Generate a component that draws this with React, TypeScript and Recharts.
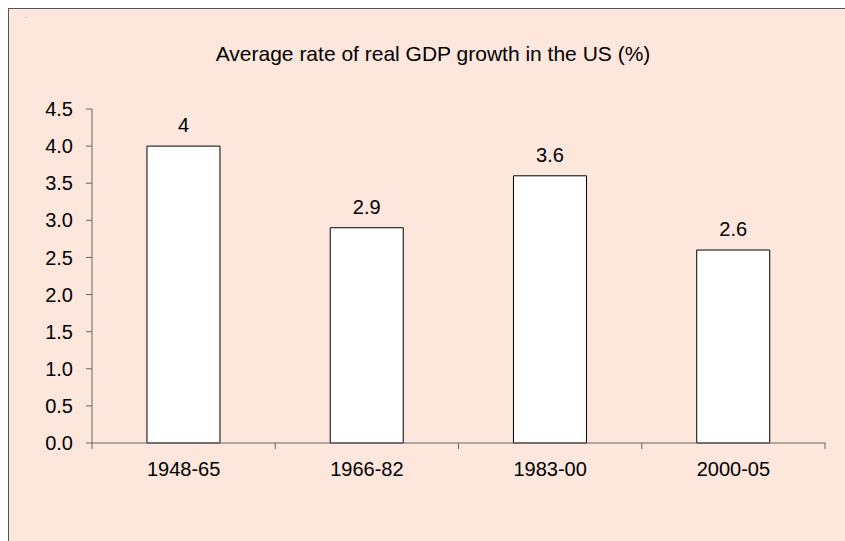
import React from 'react';
import { BarChart, Bar, XAxis, YAxis, LabelList } from 'recharts';

const PERIODS = ['1948-65', '1966-82', '1983-00', '2000-05'];
const GROWTH = [4, 2.9, 3.6, 2.6];
const Y_TICKS = [0, 0.5, 1, 1.5, 2, 2.5, 3, 3.5, 4, 4.5];

const data = PERIODS.map((period, i) => ({ period, growth: GROWTH[i] }));

const FONT = '"Liberation Sans", Arial, sans-serif';
const AXIS = '#666666';
const SIZE = 20;

// category ticks sit on the band edges, labels in the middle
const PeriodTick = (props: any) => {
  const { x, y, payload, index, visibleTicksCount } = props;
  const half = payload && payload.offset ? payload.offset : 91.6;
  const top = y - 19;
  return (
    <g>
      <line x1={x - half} y1={top} x2={x - half} y2={top + 6} stroke={AXIS} />
      {index === visibleTicksCount - 1 && (
        <line x1={x + half} y1={top} x2={x + half} y2={top + 6} stroke={AXIS} />
      )}
      <text x={x} y={y} dy="0.71em" textAnchor="middle" fontSize={SIZE} fill="#000" fontFamily={FONT}>
        {payload.value}
      </text>
    </g>
  );
};

export default function App() {
  return (
    <div
      style={{
        position: 'fixed',
        left: 8,
        top: 8,
        width: 850,
        height: 540,
        borderTop: '1px solid #555',
        borderLeft: '1px solid #555',
        background: '#FDE6DC',
        fontFamily: FONT,
        overflow: 'hidden',
      }}
    >
      <style>{'html, body { overflow: hidden; }'}</style>
      <div style={{ position: 'absolute', left: 16, top: 3, fontSize: 6, lineHeight: '8px' }}>.</div>
      <div
        style={{
          position: 'absolute',
          left: 0,
          width: 848,
          top: 34,
          textAlign: 'center',
          fontSize: 21,
          lineHeight: '21px',
          color: '#000',
        }}
      >
        Average rate of real GDP growth in the US (%)
      </div>
      <BarChart
        width={836}
        height={532}
        data={data}
        margin={{ top: 100, right: 20, bottom: 68, left: 0 }}
        barCategoryGap="30%"
      >
        <XAxis
          dataKey="period"
          height={30}
          stroke={AXIS}
          tickLine={false}
          tickSize={6}
          tickMargin={13}
          tick={<PeriodTick />}
        />
        <YAxis
          width={83}
          domain={[0, 4.5]}
          ticks={Y_TICKS}
          interval={0}
          stroke={AXIS}
          tickSize={6}
          tickMargin={13}
          tickFormatter={(v: number) => v.toFixed(1)}
          tick={{ fill: '#000', fontSize: SIZE, fontFamily: FONT }}
        />
        <Bar dataKey="growth" fill="#FFFFFF" stroke="#000000" strokeWidth={1} isAnimationActive={false}>
          <LabelList dataKey="growth" position="top" offset={14} fill="#000" fontSize={SIZE} fontFamily={FONT} />
        </Bar>
      </BarChart>
    </div>
  );
}
